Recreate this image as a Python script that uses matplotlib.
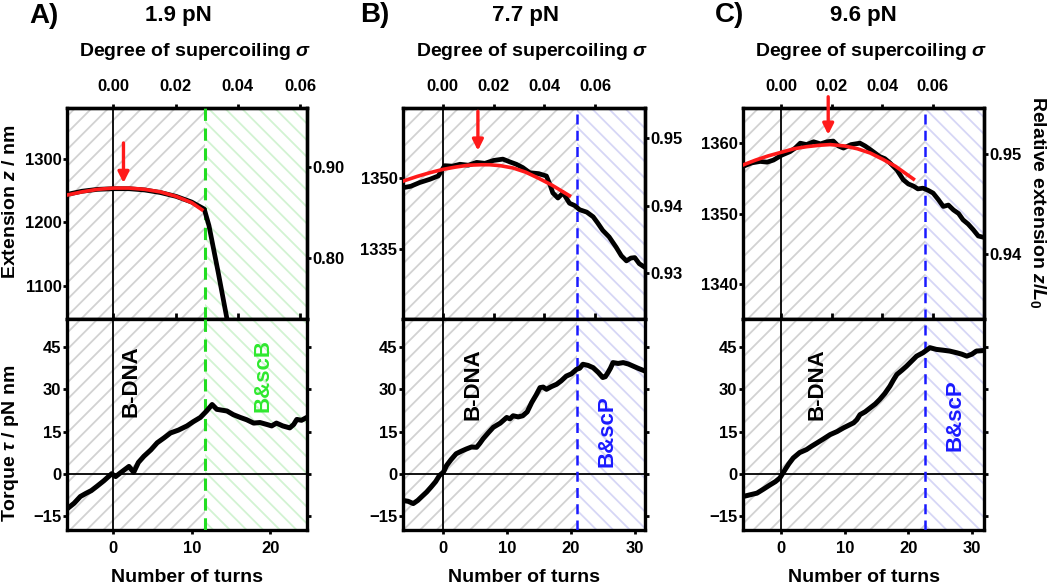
import matplotlib
matplotlib.use("Agg")
import matplotlib.pyplot as plt
import numpy as np
from matplotlib.ticker import FormatStrFormatter

plt.rcParams['font.family'] = ['Liberation Sans', 'DejaVu Sans']
plt.rcParams['font.weight'] = 'bold'
plt.rcParams['mathtext.fontset'] = 'custom'
plt.rcParams['mathtext.it'] = 'Liberation Sans:bold:italic'
plt.rcParams['mathtext.rm'] = 'Liberation Sans:bold'
plt.rcParams['mathtext.bf'] = 'Liberation Sans:bold'
plt.rcParams['hatch.linewidth'] = 1.3

# ---------------- data ----------------
panel_letters = ["A)", "B)", "C)"]
forces = ["1.9 pN", "7.7 pN", "9.6 pN"]
transition_turns = [11.7, 21.0, 22.6]
phase_labels = ["B&scB", "B&scP", "B&scP"]

# Panel A
ext_A_turns = [-5.9, -4, -2, 0, 2, 4, 6, 8, 10, 11.6, 12.2, 13.4, 14.5, 14.8]
ext_A_nm = [1244, 1249, 1252, 1253, 1253, 1251, 1247, 1241, 1232, 1221, 1195, 1120, 1048, 1030]
fit_A_turns = [-5.9, -4, -2, 0, 2, 4, 6, 8, 10, 11.3]
fit_A_nm = [1243, 1248, 1252, 1254, 1254, 1252, 1248, 1241, 1231, 1220]
tq_A_turns = [-5.8, -5.0, -4.2, -3.5, -2.8, -2.1, -1.2, -0.2, 0.3, 1.0, 2.0, 2.6, 3.2, 3.9,
              4.8, 5.6, 6.5, 7.3, 8.3, 9.4, 10.2, 11.1, 11.9, 12.6, 13.2, 14.5, 15.3,
              16.2, 17.0, 17.9, 18.7, 19.6, 20.2, 20.8, 21.6, 22.5, 23.0, 23.4, 24.0, 24.6]
tq_A = [-12.3, -10.5, -8.1, -7.0, -6.0, -4.5, -2.5, 0.0, -1.0, 0.5, 2.6, 0.5, 4.0, 6.2,
        8.5, 11.0, 12.8, 14.5, 15.5, 17.0, 18.5, 20.0, 22.3, 24.6, 22.9, 22.3, 21.0,
        20.0, 19.2, 18.0, 18.2, 17.5, 17.0, 18.0, 17.0, 16.3, 17.5, 19.3, 19.0, 19.9]

# Panel B
ext_B_turns = [-6.2, -5.0, -3.6, -2.0, -0.7, 0.3, 1.5, 2.7, 4.0, 5.3, 6.6, 7.9, 9.4, 10.5, 11.5,
               12.5, 13.6, 15.0, 16.2, 16.8, 17.2, 18.0, 18.8, 19.8, 20.6, 21.4, 22.5, 23.5,
               24.2, 25.0, 26.0, 27.1, 27.9, 28.7, 29.4, 30.0, 30.7, 31.6]
ext_B_nm = [1348.0, 1348.3, 1349.1, 1349.8, 1350.5, 1352.7, 1352.6, 1353.0, 1352.8, 1353.4, 1353.2,
            1353.8, 1354.1, 1353.5, 1353.0, 1352.3, 1351.2, 1351.0, 1350.5, 1348.5, 1346.9,
            1345.8, 1346.9, 1344.7, 1344.2, 1343.3, 1342.8, 1341.8, 1340.5, 1338.9, 1337.5,
            1335.3, 1333.5, 1332.4, 1333.0, 1333.1, 1331.8, 1331.0]
fit_B_turns = [-6.2, -4, -2, 0, 2, 4, 6, 7.3, 9, 11, 13, 15, 17, 19.8]
fit_B_nm = [1349.4, 1350.4, 1351.2, 1351.9, 1352.4, 1352.8, 1352.9, 1352.9, 1352.7, 1352.2,
            1351.3, 1350.0, 1348.6, 1346.3]
tq_B_turns = [-6.2, -5.4, -4.6, -3.9, -3.3, -2.5, -1.8, -1.1, -0.5, 0.1, 0.6, 1.3, 2.1, 2.9,
              3.7, 4.5, 5.3, 5.8, 6.3, 7.1, 7.9, 9.0, 10.0, 10.5, 11.0, 11.8, 12.5, 13.2,
              13.9, 14.6, 15.2, 15.7, 16.2, 17.0, 17.8, 18.5, 19.3, 20.1, 20.9, 21.4, 21.9,
              22.7, 23.5, 24.3, 25.0, 25.4, 25.8, 26.2, 26.6, 27.4, 28.2, 29.0, 29.7, 30.5, 31.6]
tq_B = [-9.5, -9.8, -10.6, -9.5, -8.2, -6.5, -4.7, -2.8, -0.6, 0.5, 2.9, 5.0, 7.1, 8.0,
        8.8, 9.5, 9.4, 10.8, 12.4, 14.5, 16.5, 18.0, 20.0, 19.5, 20.6, 20.2, 20.6, 22.0,
        25.3, 28.0, 30.6, 30.8, 30.0, 31.0, 31.8, 33.0, 34.7, 35.5, 37.1, 37.5, 38.9,
        38.5, 37.7, 36.0, 34.2, 34.5, 35.9, 37.5, 39.5, 39.2, 39.5, 39.0, 38.3, 37.5, 36.5]

# Panel C
ext_C_turns = [-6.0, -4.6, -3.3, -2.2, -1.2, 0.1, 1.4, 2.2, 3.0, 4.0, 5.1, 6.2, 7.2, 8.2, 9.0,
               9.8, 11.0, 12.4, 13.2, 14.0, 15.5, 16.3, 17.1, 18.2, 19.2, 20.0, 20.8, 21.5,
               22.3, 23.1, 23.9, 24.7, 25.5, 26.3, 27.1, 27.9, 28.6, 29.4, 30.2, 31.0, 31.9]
ext_C_nm = [1356.7, 1357.2, 1357.4, 1357.3, 1357.6, 1358.3, 1358.8, 1359.3, 1360.0, 1359.8,
            1360.2, 1359.9, 1360.2, 1360.3, 1359.6, 1359.3, 1359.8, 1360.0, 1359.6, 1359.1,
            1358.1, 1357.8, 1357.2, 1356.2, 1354.8, 1354.2, 1353.9, 1353.5, 1353.6, 1353.3,
            1352.9, 1352.0, 1351.0, 1351.2, 1350.5, 1350.0, 1349.1, 1348.5, 1347.7, 1346.8, 1346.6]
fit_C_turns = [-6.0, -4, -2, 0, 2, 4, 6, 7.7, 10, 12, 14, 16, 18, 20.8]
fit_C_nm = [1356.9, 1357.6, 1358.2, 1358.7, 1359.2, 1359.5, 1359.7, 1359.8, 1359.6, 1359.2,
            1358.6, 1357.7, 1356.7, 1354.9]
tq_C_turns = [-6.0, -4.9, -3.8, -2.8, -1.7, -0.9, -0.2, 0.6, 1.2, 1.9, 2.9, 4.0, 4.8, 5.6,
              6.6, 7.7, 8.8, 9.8, 10.6, 11.4, 11.9, 12.4, 13.2, 14.0, 14.8, 15.5, 16.3,
              17.1, 17.7, 18.2, 19.0, 19.7, 20.5, 21.3, 22.3, 23.4, 24.4, 25.5, 26.5,
              27.6, 28.4, 29.2, 30.0, 30.7, 31.9]
tq_C = [-8.1, -7.5, -6.9, -5.5, -3.9, -2.8, -1.5, 1.4, 3.5, 5.6, 7.5, 8.6, 9.8, 10.9,
        12.3, 13.9, 15.0, 16.3, 17.2, 18.1, 19.2, 21.0, 22.0, 23.4, 24.8, 26.4, 28.5,
        31.1, 33.5, 35.3, 36.8, 38.2, 40.0, 41.8, 43.0, 44.8, 44.2, 43.9, 43.6,
        43.0, 42.5, 41.8, 42.5, 43.6, 43.8]

ext_turns = [ext_A_turns, ext_B_turns, ext_C_turns]
ext_nm = [ext_A_nm, ext_B_nm, ext_C_nm]
fit_turns = [fit_A_turns, fit_B_turns, fit_C_turns]
fit_nm = [fit_A_nm, fit_B_nm, fit_C_nm]
tq_turns = [tq_A_turns, tq_B_turns, tq_C_turns]
tq_vals = [tq_A, tq_B, tq_C]

arrow_turns = [1.3, 5.5, 7.4]
arrow_from = [1325, 1364.3, 1366.6]
arrow_to = [1262, 1355.9, 1361.2]

dna_label_pos = [(2.2, 33), (4.7, 32), (5.6, 32)]
phase_label_pos = [(19.1, 35), (25.6, 15), (27.3, 21)]

xlims = [(-5.9, 24.7), (-6.2, 31.6), (-6.0, 31.9)]
ext_ylims = [(1048, 1380), (1320, 1365), (1335, 1365)]
ext_ticks = [[1100, 1200, 1300], [1335, 1350], [1340, 1350, 1360]]
rel_ticks = [[0.80, 0.90], [0.93, 0.94, 0.95], [0.94, 0.95]]
sigma_ticks = [0.00, 0.02, 0.04, 0.06]
turn_ticks = [[0, 10, 20], [0, 10, 20, 30], [0, 10, 20, 30]]
torque_ticks = [-15, 0, 15, 30, 45]
torque_ylim = (-20, 55)

LK0 = 397.0   # turns per unit supercoiling
L0 = 1430.0   # contour length, nm

# ---------------- layout ----------------
W, H = 1050, 584
fig = plt.figure(figsize=(W / 100, H / 100), dpi=100)
lefts = [67, 403, 743]
widths = [240, 242, 241]
top_y0, mid_y, bot_y1 = 108, 319, 530

trans_colors = ['#22dd22', '#1a1aff', '#1a1aff']
text_colors = ['#2ee82e', '#1a1aff', '#1a1aff']
hatch_colors = ['#d2f3d2', '#d6d6f6', '#d6d6f6']
gray_hatch = '#d2d2d2'
spine_w = 2.4

def fx(px):
    return px / W

def fy(py):
    return 1 - py / H

def style_spines(ax):
    for s in ax.spines.values():
        s.set_linewidth(spine_w)

for i in range(3):
    l = fx(lefts[i])
    w = widths[i] / W
    ax_t = fig.add_axes([l, fy(mid_y), w, (mid_y - top_y0) / H])
    ax_b = fig.add_axes([l, fy(bot_y1), w, (bot_y1 - mid_y) / H])
    xl = xlims[i]
    xt = transition_turns[i]
    for ax in (ax_t, ax_b):
        ax.set_xlim(*xl)
        ax.axvspan(xl[0], xt, facecolor='white', edgecolor=gray_hatch, hatch='//', lw=0, zorder=0)
        ax.axvspan(xt, xl[1], facecolor='white', edgecolor=hatch_colors[i], hatch='\\\\', lw=0, zorder=0)
        ax.axvline(0, color='black', lw=1.3, zorder=1)
        ax.axvline(xt, color=trans_colors[i], lw=2.2 if i == 0 else 1.8,
                   ls=(0, (4, 2.5)), zorder=3)
        style_spines(ax)

    # ----- top: extension -----
    ax_t.set_ylim(*ext_ylims[i])
    ax_t.plot(ext_turns[i], ext_nm[i], color='black', lw=3.4, zorder=4)
    ax_t.plot(fit_turns[i], fit_nm[i], color='#ff1a1a', lw=2.6, zorder=5)
    ax_t.annotate('', xy=(arrow_turns[i], arrow_to[i]), xytext=(arrow_turns[i], arrow_from[i]),
                  arrowprops=dict(arrowstyle='-|>', color='#ff1a1a', lw=2.4, mutation_scale=16,
                                  shrinkA=0, shrinkB=0),
                  annotation_clip=False, zorder=6)
    ax_t.set_yticks(ext_ticks[i])
    ax_t.tick_params(axis='y', direction='out', length=3, width=2, labelsize=12, pad=1)
    ax_t.tick_params(axis='x', bottom=False, labelbottom=False)

    sec_top = ax_t.secondary_xaxis('top', functions=(lambda t: t / LK0, lambda s: s * LK0))
    sec_top.set_xticks(sigma_ticks)
    sec_top.xaxis.set_major_formatter(FormatStrFormatter('%.2f'))
    sec_top.tick_params(direction='out', length=3, width=2, labelsize=12, pad=7)
    sec_top.spines['top'].set_linewidth(spine_w)

    sec_bot = ax_t.secondary_xaxis('bottom', functions=(lambda t: t / LK0, lambda s: s * LK0))
    sec_bot.set_xticks(sigma_ticks)
    sec_bot.tick_params(direction='in', length=4, width=2, labelbottom=False)
    sec_bot.spines['bottom'].set_linewidth(spine_w)

    sec_r = ax_t.secondary_yaxis('right', functions=(lambda z: z / L0, lambda r: r * L0))
    sec_r.set_yticks(rel_ticks[i])
    sec_r.yaxis.set_major_formatter(FormatStrFormatter('%.2f'))
    sec_r.tick_params(direction='out', length=3, width=2, labelsize=12, pad=1)
    sec_r.spines['right'].set_linewidth(spine_w)

    # ----- bottom: torque -----
    ax_b.set_ylim(*torque_ylim)
    ax_b.axhline(0, color='black', lw=1.3, zorder=1)
    ax_b.plot(tq_turns[i], tq_vals[i], color='black', lw=3.6, zorder=4)
    ax_b.set_xticks(turn_ticks[i])
    ax_b.set_yticks(torque_ticks)
    ax_b.tick_params(axis='both', direction='out', length=3, width=2, labelsize=12, pad=2)
    ax_b.tick_params(axis='y', right=True, labelright=False, pad=1)
    ax_b.tick_params(axis='x', top=False, pad=5)

    tx, ty = dna_label_pos[i]
    ax_b.text(tx, ty, 'B-DNA', rotation=90, ha='center', va='center', fontsize=16,
              fontweight='bold', color='black', zorder=6)
    px_, py_ = phase_label_pos[i]
    ax_b.text(px_, py_, phase_labels[i], rotation=90, ha='center', va='center', fontsize=16,
              fontweight='bold', color=text_colors[i], zorder=6)

    # ----- figure-level text -----
    cx = lefts[i] + widths[i] / 2
    fig.text(fx(cx + 8), fy(51), r'Degree of supercoiling $\sigma$', ha='center', va='center',
             fontsize=14, fontweight='bold')
    fig.text(fx(cx), fy(577), 'Number of turns', ha='center', va='center',
             fontsize=14, fontweight='bold')

fig.text(fx(44), fy(16), 'A)', ha='center', va='center', fontsize=20, fontweight='bold')
fig.text(fx(375), fy(15), 'B)', ha='center', va='center', fontsize=20, fontweight='bold')
fig.text(fx(729), fy(15), 'C)', ha='center', va='center', fontsize=20, fontweight='bold')
fig.text(fx(178), fy(16), forces[0], ha='center', va='center', fontsize=16, fontweight='bold')
fig.text(fx(525), fy(16), forces[1], ha='center', va='center', fontsize=16, fontweight='bold')
fig.text(fx(863), fy(16), forces[2], ha='center', va='center', fontsize=16, fontweight='bold')

fig.text(fx(11), fy(202), r'Extension $z$ / nm', rotation=90, ha='center', va='center',
         fontsize=14, fontweight='bold')
fig.text(fx(11), fy(443), r'Torque $\tau$ / pN nm', rotation=90, ha='center', va='center',
         fontsize=14, fontweight='bold')
fig.text(fx(1038), fy(202), r'Relative extension $z/L_0$', rotation=270, ha='center', va='center',
         fontsize=14, fontweight='bold')

fig.savefig('out.png', dpi=100)
